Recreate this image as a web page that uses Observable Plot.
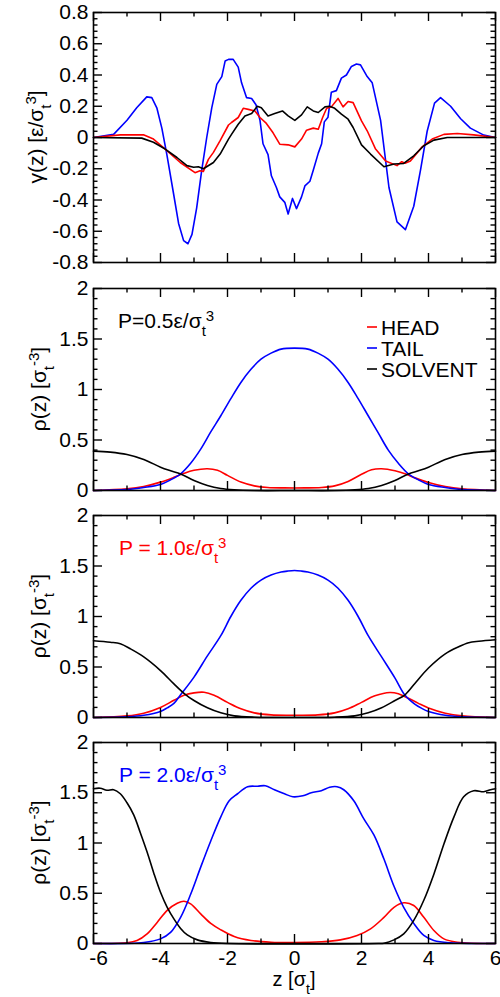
<!DOCTYPE html>
<html><head><meta charset="utf-8">
<script src="https://cdn.jsdelivr.net/npm/d3@7"></script>
<script src="https://cdn.jsdelivr.net/npm/@observablehq/plot@0.6"></script>
<style>
body{margin:0;background:#fff;}
#chart{width:500px;}
#chart svg{display:block;}
</style></head><body><div id="chart"></div>
<script>
const FONT = "'Liberation Sans', Arial, Helvetica, sans-serif";
const COLORS = {head: "#ff0000", tail: "#0000ff", solvent: "#000000"};
const seriesNames = ["HEAD", "TAIL", "SOLVENT"];
const xTickLabels = [-6, -4, -2, 0, 2, 4, 6];
const gammaTicks = [-0.8, -0.6, -0.4, -0.2, 0, 0.2, 0.4, 0.6, 0.8];
const rhoTicks = [0, 0.5, 1, 1.5, 2];
const pressures = ["0.5", "1.0", "2.0"];

// gamma(z) panel  [z, value]
const gammaTail = [[-6,0],[-5.4,0.02],[-5,0.11],[-4.71,0.19],[-4.41,0.26],[-4.26,0.255],[-4.11,0.19],[-3.96,0.06],[-3.81,-0.11],[-3.61,-0.36],[-3.46,-0.55],[-3.31,-0.66],[-3.18,-0.68],[-3.06,-0.62],[-2.92,-0.45],[-2.77,-0.21],[-2.62,0],[-2.47,0.19],[-2.32,0.34],[-2.17,0.39],[-2.07,0.49],[-1.97,0.5],[-1.83,0.5],[-1.68,0.45],[-1.58,0.35],[-1.43,0.255],[-1.28,0.25],[-1.15,0.21],[-1.03,0.11],[-0.94,-0.04],[-0.79,-0.11],[-0.69,-0.245],[-0.54,-0.32],[-0.44,-0.38],[-0.29,-0.415],[-0.19,-0.49],[-0.06,-0.39],[0.06,-0.455],[0.21,-0.38],[0.31,-0.31],[0.46,-0.28],[0.56,-0.21],[0.71,-0.1],[0.81,-0.04],[0.89,0.1],[1.0,0.13],[1.1,0.29],[1.25,0.3],[1.4,0.38],[1.55,0.4],[1.7,0.455],[1.85,0.47],[1.97,0.465],[2.17,0.39],[2.32,0.35],[2.57,0.11],[2.82,-0.32],[3.06,-0.54],[3.31,-0.59],[3.56,-0.44],[3.76,-0.21],[3.96,0.04],[4.18,0.22],[4.36,0.255],[4.66,0.2],[4.96,0.12],[5.25,0.06],[5.65,0.015],[6,0]];
const gammaHead = [[-6,0],[-5.2,0.017],[-4.51,0.017],[-4.21,-0.01],[-3.86,-0.075],[-3.41,-0.16],[-2.97,-0.225],[-2.82,-0.213],[-2.72,-0.217],[-2.57,-0.14],[-2.42,-0.095],[-2.22,-0.02],[-1.97,0.08],[-1.88,0.096],[-1.68,0.128],[-1.53,0.187],[-1.38,0.18],[-1.18,0.17],[-1.03,0.128],[-0.84,0.09],[-0.64,0.03],[-0.44,-0.043],[-0.19,-0.047],[0.01,-0.06],[0.21,-0.01],[0.36,0.047],[0.56,0.06],[0.71,0.053],[0.84,0.128],[0.96,0.187],[1.1,0.196],[1.3,0.25],[1.45,0.196],[1.6,0.23],[1.75,0.223],[2.0,0.106],[2.17,0.043],[2.42,-0.074],[2.72,-0.15],[3.06,-0.18],[3.2,-0.155],[3.3,-0.165],[3.46,-0.15],[3.81,-0.06],[4.11,-0.01],[4.46,0.02],[4.86,0.026],[5.35,0.017],[6,0]];
const gammaSolvent = [[-6,0],[-4.56,-0.004],[-4.21,-0.03],[-3.86,-0.074],[-3.51,-0.128],[-3.21,-0.18],[-3.01,-0.19],[-2.87,-0.187],[-2.72,-0.2],[-2.42,-0.16],[-2.22,-0.106],[-1.97,-0.01],[-1.88,0.02],[-1.68,0.085],[-1.48,0.138],[-1.28,0.153],[-1.11,0.2],[-0.99,0.19],[-0.79,0.138],[-0.59,0.153],[-0.36,0.17],[-0.19,0.138],[0.01,0.11],[0.21,0.145],[0.38,0.196],[0.56,0.17],[0.71,0.16],[0.91,0.196],[1.05,0.2],[1.2,0.187],[1.4,0.149],[1.6,0.117],[1.75,0.064],[2.0,-0.047],[2.27,-0.106],[2.67,-0.187],[2.97,-0.17],[3.26,-0.166],[3.56,-0.117],[3.86,-0.053],[4.16,-0.017],[4.56,0],[6,0]];

// rho(z), P = 0.5
const head05 = [[-6,0],[-5,0.017],[-4.5,0.04],[-4,0.083],[-3.6,0.13],[-3.3,0.17],[-3,0.2],[-2.6,0.215],[-2.3,0.2],[-2,0.15],[-1.6,0.083],[-1.2,0.046],[-0.8,0.03],[-0.3,0.026],[0,0.025],[0.3,0.026],[0.8,0.03],[1.2,0.046],[1.6,0.09],[2.0,0.16],[2.3,0.205],[2.6,0.215],[3.0,0.195],[3.3,0.165],[3.6,0.125],[4,0.08],[4.5,0.04],[5,0.017],[6,0]];
const tail05 = [[-6,0],[-5,0.01],[-4.5,0.03],[-4,0.06],[-3.7,0.105],[-3.4,0.165],[-3.1,0.27],[-2.8,0.41],[-2.5,0.58],[-2.2,0.74],[-1.9,0.91],[-1.6,1.07],[-1.3,1.2],[-1.0,1.3],[-0.7,1.36],[-0.4,1.4],[0,1.41],[0.4,1.4],[0.7,1.36],[1.0,1.3],[1.3,1.2],[1.6,1.07],[1.9,0.91],[2.2,0.74],[2.5,0.57],[2.8,0.40],[3.1,0.27],[3.4,0.165],[3.7,0.105],[4,0.06],[4.5,0.03],[5,0.01],[6,0]];
const solvent05 = [[-6,0.39],[-5.5,0.38],[-5,0.356],[-4.5,0.307],[-4,0.231],[-3.7,0.195],[-3.4,0.163],[-3,0.099],[-2.6,0.05],[-2.2,0.02],[-1.8,0.007],[-1.2,0],[0,0],[1.2,0],[1.8,0.007],[2.2,0.02],[2.6,0.05],[3,0.099],[3.4,0.163],[3.7,0.195],[4,0.231],[4.5,0.307],[5,0.356],[5.5,0.38],[6,0.39]];

// rho(z), P = 1.0
const head10 = [[-6,0],[-5,0.016],[-4.5,0.043],[-4,0.10],[-3.6,0.17],[-3.3,0.22],[-3,0.244],[-2.7,0.25],[-2.4,0.22],[-2,0.15],[-1.6,0.086],[-1.2,0.046],[-0.7,0.026],[0,0.023],[0.7,0.026],[1.2,0.046],[1.6,0.086],[2.0,0.15],[2.4,0.215],[2.85,0.248],[3.1,0.235],[3.4,0.19],[3.7,0.14],[4,0.095],[4.5,0.043],[5,0.016],[6,0]];
const tail10 = [[-6,0],[-5,0.007],[-4.5,0.022],[-4,0.06],[-3.8,0.095],[-3.6,0.14],[-3.4,0.225],[-3,0.40],[-2.6,0.61],[-2.2,0.81],[-1.9,1.0],[-1.6,1.16],[-1.3,1.28],[-1.0,1.36],[-0.7,1.41],[-0.4,1.44],[-0.2,1.45],[0,1.455],[0.2,1.45],[0.4,1.44],[0.7,1.41],[1.0,1.36],[1.3,1.28],[1.6,1.16],[1.9,1.0],[2.2,0.81],[2.6,0.6],[3,0.39],[3.3,0.22],[3.6,0.13],[3.8,0.09],[4,0.06],[4.5,0.022],[5,0.007],[6,0]];
const solvent10 = [[-6,0.76],[-5.5,0.745],[-5.2,0.73],[-4.9,0.68],[-4.5,0.6],[-4,0.465],[-3.6,0.333],[-3.3,0.24],[-3,0.168],[-2.6,0.096],[-2.2,0.046],[-1.8,0.016],[-1.2,0.003],[0,0],[1.2,0.003],[1.8,0.016],[2.2,0.046],[2.6,0.096],[3,0.168],[3.3,0.225],[3.6,0.34],[4,0.49],[4.5,0.63],[4.9,0.70],[5.2,0.74],[5.5,0.755],[6,0.77]];

// rho(z), P = 2.0
const head20 = [[-6,0],[-5,0.007],[-4.7,0.03],[-4.4,0.096],[-4.1,0.21],[-3.8,0.33],[-3.5,0.40],[-3.3,0.42],[-3.1,0.395],[-2.8,0.295],[-2.5,0.2],[-2.2,0.136],[-1.8,0.07],[-1.3,0.03],[-0.7,0.013],[0,0.01],[0.8,0.017],[1.37,0.036],[1.87,0.08],[2.27,0.146],[2.67,0.26],[2.97,0.36],[3.26,0.405],[3.56,0.378],[3.86,0.26],[4.16,0.13],[4.46,0.046],[4.86,0.013],[6,0]];
const tail20 = [[-6,0],[-4.5,0.01],[-4,0.046],[-3.7,0.11],[-3.4,0.26],[-3.1,0.49],[-2.8,0.76],[-2.5,1.02],[-2.2,1.26],[-1.95,1.42],[-1.7,1.49],[-1.4,1.56],[-1.1,1.565],[-0.87,1.57],[-0.6,1.53],[-0.3,1.49],[-0.05,1.46],[0.25,1.47],[0.5,1.5],[0.8,1.52],[1.05,1.555],[1.27,1.56],[1.47,1.53],[1.77,1.42],[2.07,1.24],[2.37,1.08],[2.67,0.84],[2.97,0.57],[3.26,0.36],[3.56,0.2],[3.86,0.08],[4.16,0.03],[4.66,0.007],[6,0]];
const solvent20 = [[-6,1.54],[-5.8,1.545],[-5.6,1.525],[-5.4,1.53],[-5.2,1.49],[-5,1.40],[-4.8,1.28],[-4.6,1.10],[-4.4,0.91],[-4.2,0.70],[-4,0.51],[-3.8,0.36],[-3.6,0.245],[-3.4,0.15],[-3.2,0.085],[-2.9,0.036],[-2.5,0.01],[-2,0],[2.5,0],[2.67,0.003],[2.97,0.036],[3.26,0.096],[3.56,0.23],[3.86,0.43],[4.16,0.69],[4.46,0.99],[4.76,1.26],[5.05,1.46],[5.35,1.52],[5.65,1.51],[5.85,1.53],[6,1.54]];

const W = 500, ML = 93, MR = 5, FW = W - ML - MR;
const fmt = d => String(d);

function richText(svg, x, y, parts, {fill = "black", size = 21, sub = 15, rotate = false, anchor = "start"} = {}) {
  const t = d3.select(svg).append("text")
    .attr("font-family", FONT).attr("font-size", size).attr("fill", fill).attr("text-anchor", anchor);
  if (rotate) t.attr("transform", `translate(${x},${y}) rotate(-90)`);
  else t.attr("x", x).attr("y", y);
  let cur = 0;
  for (const [s, kind] of parts) {
    const target = kind === "sub" ? 8 : kind === "sup" ? -7 : 0;
    t.append("tspan").attr("dy", target - cur).attr("font-size", kind ? sub : size).text(s);
    cur = target;
  }
}

function panel({series, yDomain, yMajor, yMinorStep, mt, fh, mb, curve, bottom}) {
  const height = mt + fh + mb;
  const xMinor = d3.range(-5, 6, 2);
  const yMinor = d3.range(yDomain[0], yDomain[1] + 1e-9, yMinorStep).filter(v => !yMajor.some(m => Math.abs(m - v) < 1e-6));
  const marks = [];
  for (const s of series) {
    marks.push(Plot.line(s.data, {x: d => d[0], y: d => d[1], stroke: s.color, strokeWidth: 1.6, curve}));
  }
  marks.push(
    Plot.tickX(xTickLabels, {x: d => d, insetBottom: fh - 9, strokeWidth: 1.4}),
    Plot.tickX(xTickLabels, {x: d => d, insetTop: fh - 9, strokeWidth: 1.4}),
    Plot.tickX(xMinor, {x: d => d, insetBottom: fh - 4.5, strokeWidth: 1.4}),
    Plot.tickX(xMinor, {x: d => d, insetTop: fh - 4.5, strokeWidth: 1.4}),
    Plot.tickY(yMajor, {y: d => d, insetRight: FW - 9, strokeWidth: 1.4}),
    Plot.tickY(yMajor, {y: d => d, insetLeft: FW - 9, strokeWidth: 1.4}),
    Plot.tickY(yMinor, {y: d => d, insetRight: FW - 4.5, strokeWidth: 1.4}),
    Plot.tickY(yMinor, {y: d => d, insetLeft: FW - 4.5, strokeWidth: 1.4}),
    Plot.frame({stroke: "black", strokeWidth: 1.6}),
    Plot.axisY({ticks: yMajor, tickSize: 0, tickPadding: 5, tickFormat: fmt, label: null, fontSize: 21})
  );
  if (bottom) {
    marks.push(
      Plot.axisX({ticks: xTickLabels.slice(0, 1), tickSize: 0, tickPadding: 7, dx: 5, tickFormat: fmt, label: null, fontSize: 21}),
      Plot.axisX({ticks: xTickLabels.slice(1), tickSize: 0, tickPadding: 7, tickFormat: fmt, label: null, fontSize: 21})
    );
  }
  return Plot.plot({
    width: W, height, marginLeft: ML, marginRight: MR, marginTop: mt, marginBottom: mb,
    x: {domain: [-6, 6], axis: null},
    y: {domain: yDomain, axis: null},
    style: {fontFamily: FONT, fontSize: "21px", background: "white", color: "black", overflow: "visible"},
    marks
  });
}

const chart = document.getElementById("chart");

// Panel 1: gamma
const p1 = panel({
  series: [{data: gammaTail, color: COLORS.tail}, {data: gammaHead, color: COLORS.head}, {data: gammaSolvent, color: COLORS.solvent}],
  yDomain: [-0.8, 0.8], yMajor: gammaTicks, yMinorStep: 0.04, mt: 12, fh: 250, mb: 12, curve: "linear"
});
chart.appendChild(p1);
richText(p1, 43, 137, [["γ(z) [ε/σ"], ["t", "sub"], ["3", "sup"], ["]"]], {rotate: true, anchor: "middle"});

const rhoTitle = [["ρ(z) [σ"], ["t", "sub"], ["-3", "sup"], ["]"]];
const pLabel = (p, spaced) => [[spaced ? `P = ${p}ε/σ` : `P=${p}ε/σ`], ["t", "sub"], ["3", "sup"]];

// Panel 2
const p2 = panel({
  series: [{data: head05, color: COLORS.head}, {data: tail05, color: COLORS.tail}, {data: solvent05, color: COLORS.solvent}],
  yDomain: [0, 2], yMajor: rhoTicks, yMinorStep: 0.1, mt: 14, fh: 202, mb: 13, curve: "catmull-rom"
});
chart.appendChild(p2);
richText(p2, 46, 14 + 101, rhoTitle, {rotate: true, anchor: "middle"});
richText(p2, 118, 14 + 40, pLabel(pressures[0], false));
const legColors = [COLORS.head, COLORS.tail, COLORS.solvent];
seriesNames.forEach((name, i) => {
  const base = 14 + 47 + i * 21;
  d3.select(p2).append("line").attr("x1", 367).attr("x2", 377).attr("y1", base - 8).attr("y2", base - 8)
    .attr("stroke", legColors[i]).attr("stroke-width", 1.6);
  d3.select(p2).append("text").attr("x", 381).attr("y", base).attr("text-anchor", "start")
    .attr("font-family", FONT).attr("font-size", 21).attr("fill", "black").text(name);
});

// Panel 3
const p3 = panel({
  series: [{data: head10, color: COLORS.head}, {data: tail10, color: COLORS.tail}, {data: solvent10, color: COLORS.solvent}],
  yDomain: [0, 2], yMajor: rhoTicks, yMinorStep: 0.1, mt: 12, fh: 202, mb: 13, curve: "catmull-rom"
});
chart.appendChild(p3);
richText(p3, 46, 12 + 101, rhoTitle, {rotate: true, anchor: "middle"});
richText(p3, 119, 12 + 40, pLabel(pressures[1], true), {fill: COLORS.head});

// Panel 4
const p4 = panel({
  series: [{data: head20, color: COLORS.head}, {data: tail20, color: COLORS.tail}, {data: solvent20, color: COLORS.solvent}],
  yDomain: [0, 2], yMajor: rhoTicks, yMinorStep: 0.1, mt: 12, fh: 201, mb: 54, curve: "catmull-rom", bottom: true
});
chart.appendChild(p4);
richText(p4, 46, 12 + 100.5, rhoTitle, {rotate: true, anchor: "middle"});
richText(p4, 119, 12 + 40, pLabel(pressures[2], true), {fill: COLORS.tail});
richText(p4, 294, 256, [["z [σ"], ["t", "sub"], ["]"]], {anchor: "middle", size: 20, sub: 14});
</script></body></html>
